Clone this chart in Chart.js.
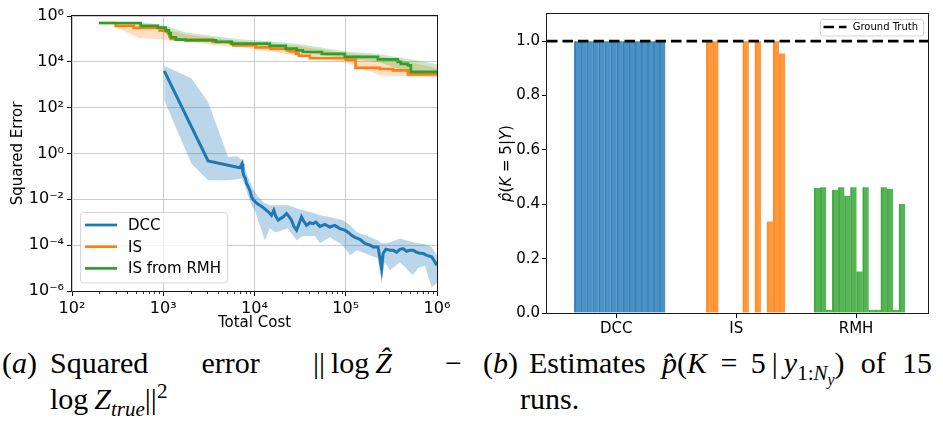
<!DOCTYPE html>
<html><head><meta charset="utf-8">
<script src="https://cdn.jsdelivr.net/npm/chart.js@4.4.0/dist/chart.umd.min.js"></script>
<style>
body{margin:0;background:#fff;width:943px;height:423px;overflow:hidden;position:relative;}
#c1{position:absolute;left:0;top:0;}
#c2{position:absolute;left:470px;top:0;}
.cap{position:absolute;font-family:"Liberation Serif";font-size:30px;line-height:30px;height:30px;color:#000;white-space:nowrap;}
.row{display:flex;justify-content:space-between;}
.cap sub,.cap sup{font-size:0.7em;line-height:0;}
.cap sub sub{font-size:0.75em;}
</style></head><body>
<canvas id="c1" width="470" height="340"></canvas>
<canvas id="c2" width="473" height="340"></canvas>

<div class="cap" style="left:2px;top:348px;">(<i>a</i>)</div>
<div class="cap row" style="left:50px;width:412px;top:348px;"><span>Squared</span><span>error</span><span>||&thinsp;log&thinsp;<i>Ẑ</i></span><span>−</span></div>
<div class="cap" style="left:50px;top:384px;">log&thinsp;<i>Z</i><sub><i>true</i></sub>||<sup>2</sup></div>

<div class="cap" style="left:483px;top:348px;">(<i>b</i>)</div>
<div class="cap row" style="left:529px;width:403px;top:348px;"><span>Estimates</span><span><i>p̂</i>(<i>K</i>&nbsp;&thinsp;=&nbsp;&thinsp;5&thinsp;|&thinsp;<i>y</i><sub>1:<i>N<sub>y</sub></i></sub>)</span><span>of</span><span>15</span></div>
<div class="cap" style="left:520px;top:384px;">runs.</div>

<script>
// ---------- Left panel data ----------
const seriesNames = ['DCC', 'IS', 'IS from RMH'];
const xTickValues = [1e2, 1e3, 1e4, 1e5, 1e6];
const xTickLabels = ['10²', '10³', '10⁴', '10⁵', '10⁶'];
const yTickValues = [1e-6, 1e-4, 1e-2, 1e0, 1e2, 1e4, 1e6];
const yTickLabels = ['10⁻⁶', '10⁻⁴', '10⁻²', '10⁰', '10²', '10⁴', '10⁶'];

const dccCost = [1025, 3100, 6900, 7310, 7480, 7640, 7930, 8170, 8510, 8880, 9330, 9820, 10590, 11430, 12330, 13540, 14360, 15350, 16280, 17130, 18160, 19420, 20590, 22440, 23780, 25450, 26980, 28900, 30600, 32750, 34700, 37200, 40400, 43900, 47000, 52000, 59000, 67000, 76000, 86100, 97700, 106700, 115800, 126000, 143000, 162000, 184000, 200000, 226000, 247000, 257000, 275000, 305000, 331000, 361000, 392000, 426000, 464000, 505000, 549000, 598000, 650000, 706000, 775000, 873000, 925000, 1000000];
const dccError = [4000, 0.47, 0.24, 0.36, 0.15, 0.11, 0.083, 0.049, 0.037, 0.025, 0.0123, 0.0091, 0.0067, 0.0055, 0.0045, 0.0033, 0.0027, 0.0020, 0.0033, 0.0018, 0.00123, 0.00148, 0.0017, 0.0024, 0.0018, 0.00123, 0.00066, 0.00045, 0.00081, 0.0017, 0.0011, 0.00074, 0.00095, 0.00087, 0.00102, 0.00066, 0.00081, 0.00062, 0.00073, 0.00053, 0.00045, 0.00036, 0.00027, 0.00022, 0.00018, 0.00012, 0.0001, 8.3e-5, 8.3e-5, 9.5e-6, 4.3e-5, 6.6e-5, 6.0e-5, 6.0e-5, 4.9e-5, 6.6e-5, 7.1e-5, 5.4e-5, 6.0e-5, 6.0e-5, 4.9e-5, 4.4e-5, 4.3e-5, 3.6e-5, 3.1e-5, 2.2e-5, 1.3e-5];

const dccBandCost = [1025, 2040, 3100, 5140, 6350, 7190, 7640, 8450, 9330, 10300, 11430, 13000, 14700, 17100, 19900, 23200, 28900, 33900, 45800, 52000, 67000, 92900, 111000, 132000, 184000, 225000, 247000, 268000, 305000, 392000, 544000, 618000, 736000, 873000, 1000000];
const dccUpper = [6700, 1860, 177, 0.71, 0.76, 0.56, 0.28, 0.10, 0.037, 0.018, 0.011, 0.0067, 0.0055, 0.0055, 0.0055, 0.0055, 0.0041, 0.0033, 0.0025, 0.0020, 0.0017, 0.00123, 0.00074, 0.00038, 0.00023, 0.00016, 0.00012, 0.00012, 0.000134, 0.000195, 0.000134, 0.00012, 0.00011, 8.3e-5, 3.6e-5];
const dccLower = [210, 0.36, 0.068, 0.068, 0.075, 0.083, 0.055, 0.015, 0.0055, 0.0027, 0.00074, 0.00016, 0.00055, 0.00036, 0.00045, 0.00055, 0.00016, 0.00025, 0.00025, 0.00012, 0.00022, 0.0001, 3.6e-5, 6.0e-5, 3.6e-5, 2.7e-5, 2.2e-6, 1.8e-5, 8e-6, 1.8e-5, 4.9e-6, 9.8e-6, 1.3e-5, 1.5e-6, 2.2e-6];

const isCost = [198, 301, 475, 916, 1091, 1164, 1208, 1405, 3490, 5500, 5860, 10300, 15100, 22600, 24400, 28400, 30600, 40400, 100300, 128000, 237000, 328000, 480000, 1000000];
const isError = [4.95e5, 3.73e5, 3.06e5, 2.31e5, 2.0e5, 1.30e5, 1.01e5, 9.3e4, 7.35e4, 6.1e4, 5.27e4, 4.3e4, 3.7e4, 3.19e4, 2.88e4, 2.29e4, 1.84e4, 1.43e4, 1.25e4, 5500, 4870, 4280, 2860, 2860];

const rmhCost = [198, 566, 871, 1064, 1148, 1208, 1371, 1765, 3770, 5640, 14700, 22000, 29100, 33900, 54700, 97800, 225000, 372000, 402000, 480000, 517000, 1000000];
const rmhError = [4.95e5, 3.73e5, 3.12e5, 2.38e5, 1.76e5, 1.18e5, 9.3e4, 8.7e4, 7.5e4, 6.25e4, 5.0e4, 3.79e4, 3.19e4, 2.69e4, 2.24e4, 1.66e4, 1.29e4, 1.0e4, 8200, 7060, 3670, 3670];

const bandCost = [301, 552, 916, 1178, 1720, 3670, 6900, 14700, 31400, 97800, 237000, 505000, 1000000];
const isUpper = [4.95e5, 4.35e5, 3.21e5, 2.38e5, 1.59e5, 1.06e5, 7.9e4, 6.4e4, 4.8e4, 2.36e4, 1.75e4, 9.5e3, 5.2e3];
const isLower = [3.21e5, 1.06e5, 9.6e4, 8.7e4, 7.9e4, 5.3e4, 4.3e4, 2.9e4, 1.75e4, 9.5e3, 2.6e3, 2.3e3, 2.1e3];
const rmhUpper = [5.3e5, 5.3e5, 4.35e5, 3.21e5, 1.95e5, 1.30e5, 9.6e4, 7.9e4, 5.8e4, 2.9e4, 2.13e4, 1.29e4, 7.8e3];
const rmhLower = [4.57e5, 3.93e5, 2.63e5, 1.30e5, 8.7e4, 7.1e4, 5.8e4, 4.3e4, 2.6e4, 1.43e4, 9.5e3, 3.2e3, 3.2e3];

// ---------- Right panel data ----------
const groupLabels = ['DCC', 'IS', 'RMH'];
const dccProb = [1, 1, 1, 1, 1, 1, 1, 1, 1, 1, 1, 1, 1, 1, 1];
const isProb = [0, 0, 1, 1, 0, 0, 0, 0, 1, 0, 1, 0, 0.337, 1, 0.955];
const rmhProb = [0.46, 0.463, 0.012, 0.453, 0.463, 0.431, 0.463, 0.153, 0.463, 0.012, 0.012, 0.463, 0.457, 0.012, 0.401];
const probTickValues = [0, 0.2, 0.4, 0.6, 0.8, 1.0];
const probTickLabels = ['0.0', '0.2', '0.4', '0.6', '0.8', '1.0'];
const groundTruth = 1.0;
const legendLabelRight = 'Ground Truth';

// ---------- helpers ----------
Chart.defaults.font.family = 'DejaVu Sans';
Chart.defaults.font.size = 15;
Chart.defaults.color = '#000';
const colors = ['#1f77b4', '#ff7f0e', '#2ca02c'];
const zip = (xs, ys) => xs.map((x, i) => ({x: x, y: ys[i]}));

function roundRectPath(ctx, x, y, w, h, r) {
  ctx.beginPath();
  ctx.moveTo(x + r, y);
  ctx.lineTo(x + w - r, y); ctx.arcTo(x + w, y, x + w, y + r, r);
  ctx.lineTo(x + w, y + h - r); ctx.arcTo(x + w, y + h, x + w - r, y + h, r);
  ctx.lineTo(x + r, y + h); ctx.arcTo(x, y + h, x, y + h - r, r);
  ctx.lineTo(x, y + r); ctx.arcTo(x, y, x + r, y, r);
  ctx.closePath();
}

const boxPlugin = {
  id: 'box',
  afterDraw(chart) {
    const a = chart.chartArea, ctx = chart.ctx;
    ctx.save();
    ctx.strokeStyle = '#1a1a1a'; ctx.lineWidth = 1;
    ctx.strokeRect(Math.round(a.left) - 0.5, Math.round(a.top) - 0.5, Math.round(a.right - a.left) + 1, Math.round(a.bottom - a.top) + 1);
    ctx.restore();
  }
};

const minorTicks = {
  id: 'minorTicks',
  afterDraw(chart) {
    const s = chart.scales.x, a = chart.chartArea, ctx = chart.ctx;
    ctx.save(); ctx.strokeStyle = '#000'; ctx.lineWidth = 0.8;
    for (let d = 0; d < xTickValues.length - 1; d++) {
      for (let k = 2; k <= 9; k++) {
        const px = Math.round(s.getPixelForValue(k * xTickValues[d])) + 0.5;
        ctx.beginPath(); ctx.moveTo(px, a.bottom); ctx.lineTo(px, a.bottom + 3); ctx.stroke();
      }
    }
    ctx.restore();
  }
};

const leftLegend = {
  id: 'leftLegend',
  afterDraw(chart) {
    const ctx = chart.ctx;
    ctx.save();
    roundRectPath(ctx, 80.5, 212.5, 147, 70.5, 3);
    ctx.fillStyle = 'rgba(255,255,255,0.8)'; ctx.fill();
    ctx.strokeStyle = '#d5d5d5'; ctx.lineWidth = 1; ctx.stroke();
    seriesNames.forEach((name, i) => {
      const yy = 225 + i * 21.7;
      ctx.strokeStyle = colors[i]; ctx.lineWidth = 2.7;
      ctx.beginPath(); ctx.moveTo(85, yy); ctx.lineTo(117, yy); ctx.stroke();
      ctx.fillStyle = '#000'; ctx.font = '15px "DejaVu Sans"'; ctx.textBaseline = 'middle';
      ctx.fillText(name, 128, yy + 1);
    });
    ctx.restore();
  }
};

// ---------- Left chart ----------
const bandStyle = (c) => ({pointRadius: 0, borderWidth: 0, borderColor: 'rgba(0,0,0,0)', backgroundColor: c});
new Chart(document.getElementById('c1'), {
  type: 'line',
  data: {
    datasets: [
      Object.assign({data: zip(dccBandCost, dccUpper), fill: false, order: 10}, bandStyle('rgba(31,119,180,0.3)')),
      Object.assign({data: zip(dccBandCost, dccLower), fill: 0, order: 10}, bandStyle('rgba(31,119,180,0.3)')),
      Object.assign({data: zip(bandCost, isUpper), fill: false, order: 9}, bandStyle('rgba(255,127,14,0.25)')),
      Object.assign({data: zip(bandCost, isLower), fill: 2, order: 9}, bandStyle('rgba(255,127,14,0.25)')),
      Object.assign({data: zip(bandCost, rmhUpper), fill: false, order: 8}, bandStyle('rgba(44,160,44,0.25)')),
      Object.assign({data: zip(bandCost, rmhLower), fill: 4, order: 8}, bandStyle('rgba(44,160,44,0.25)')),
      {label: seriesNames[1], data: zip(isCost, isError), stepped: true, borderColor: colors[1], borderWidth: 2.7, pointRadius: 0, fill: false, order: 3},
      {label: seriesNames[2], data: zip(rmhCost, rmhError), stepped: true, borderColor: colors[2], borderWidth: 2.7, pointRadius: 0, fill: false, order: 2},
      {label: seriesNames[0], data: zip(dccCost, dccError), borderColor: colors[0], borderWidth: 3, pointRadius: 0, fill: false, order: 1}
    ]
  },
  options: {
    responsive: false, animation: false,
    layout: {padding: {left: 0, right: 33, top: 16, bottom: 0}},
    plugins: {legend: {display: false}, tooltip: {enabled: false}},
    scales: {
      x: {
        type: 'logarithmic', min: 1e2, max: 1e6,
        afterBuildTicks: s => { s.ticks = xTickValues.map(v => ({value: v})); },
        afterFit: s => { s.height = 49; },
        ticks: {autoSkip: false, maxRotation: 0, padding: 3, font: {size: 16}, callback: (v, i) => xTickLabels[i]},
        grid: {color: '#cbcbcb', lineWidth: 1, tickLength: 5, tickColor: '#000'},
        border: {display: false},
        title: {display: true, text: 'Total Cost', padding: {top: 0, bottom: 8}}
      },
      y: {
        type: 'logarithmic', min: 1e-6, max: 1e6,
        afterBuildTicks: s => { s.ticks = yTickValues.map(v => ({value: v})); },
        afterFit: s => { s.width = 72; },
        ticks: {autoSkip: false, padding: 3, font: {size: 16}, callback: (v, i) => yTickLabels[i]},
        grid: {color: '#cbcbcb', lineWidth: 1, tickLength: 5, tickColor: '#000'},
        border: {display: false},
        title: {display: true, text: 'Squared Error', padding: {top: 9, bottom: 0}}
      }
    }
  },
  plugins: [boxPlugin, minorTicks, leftLegend]
});

// ---------- Right chart ----------
const xMinR = -0.578, xMaxR = 2.6;
const barStart = -0.35, barStep = 0.0506;
const barData = (vals, g) => vals.map((v, i) => ({x: g + barStart + (i + 0.5) * barStep, y: v}));
const barDs = (vals, g, fillC, edgeC) => ({
  type: 'bar', data: barData(vals, g), backgroundColor: fillC, borderColor: edgeC,
  borderWidth: {left: 1, right: 0, top: 0, bottom: 0}, borderSkipped: false,
  grouped: false, barPercentage: 1, categoryPercentage: 1, order: 2
});

const yTitlePlugin = {
  id: 'yTitle',
  afterDraw(chart) {
    const ctx = chart.ctx, a = chart.chartArea;
    const parts = [['p\u0302', 'italic'], ['(', 'normal'], ['K', 'italic'], [' = 5|', 'normal'], ['Y', 'italic'], [')', 'normal']];
    ctx.save();
    ctx.translate(36.7, (a.top + a.bottom) / 2);
    ctx.rotate(-Math.PI / 2);
    ctx.fillStyle = '#000'; ctx.textBaseline = 'middle';
    let total = 0;
    parts.forEach(p => { ctx.font = p[1] + ' 15px "DejaVu Sans"'; total += ctx.measureText(p[0]).width; });
    let x = -total / 2;
    parts.forEach(p => { ctx.font = p[1] + ' 15px "DejaVu Sans"'; ctx.fillText(p[0], x, 0); x += ctx.measureText(p[0]).width; });
    ctx.restore();
  }
};

const rightLegend = {
  id: 'rightLegend',
  afterDraw(chart) {
    const ctx = chart.ctx;
    ctx.save();
    roundRectPath(ctx, 350.5, 19.5, 103, 16.5, 2);
    ctx.fillStyle = 'rgba(255,255,255,0.8)'; ctx.fill();
    ctx.strokeStyle = '#d5d5d5'; ctx.lineWidth = 1; ctx.stroke();
    ctx.strokeStyle = '#000'; ctx.lineWidth = 2.7; ctx.setLineDash([10.5, 5]);
    ctx.beginPath(); ctx.moveTo(353.5, 27); ctx.lineTo(376.5, 27); ctx.stroke();
    ctx.setLineDash([]);
    ctx.fillStyle = '#000'; ctx.font = '10px "DejaVu Sans"'; ctx.textBaseline = 'middle';
    ctx.fillText(legendLabelRight, 382.7, 27.5);
    ctx.restore();
  }
};

new Chart(document.getElementById('c2'), {
  type: 'bar',
  data: {
    datasets: [
      {type: 'line', label: legendLabelRight, data: [{x: xMinR, y: groundTruth}, {x: xMaxR, y: groundTruth}], borderColor: '#000', borderWidth: 2.7, borderDash: [10.5, 5], pointRadius: 0, fill: false, order: 0},
      barDs(dccProb, 0, 'rgba(31,119,180,0.8)', 'rgba(31,119,180,0.85)'),
      barDs(isProb, 1, 'rgba(255,127,14,0.8)', 'rgba(255,127,14,0.85)'),
      barDs(rmhProb, 2, 'rgba(44,160,44,0.8)', 'rgba(44,160,44,0.85)')
    ]
  },
  options: {
    responsive: false, animation: false,
    layout: {padding: {left: 0, right: 15, top: 14, bottom: 0}},
    plugins: {legend: {display: false}, tooltip: {enabled: false}},
    scales: {
      x: {
        type: 'linear', min: xMinR, max: xMaxR, offset: false,
        afterBuildTicks: s => { s.ticks = groupLabels.map((l, i) => ({value: i})); },
        afterFit: s => { s.height = 27; },
        ticks: {autoSkip: false, maxRotation: 0, padding: 2, callback: (v, i) => groupLabels[i]},
        grid: {drawOnChartArea: false, offset: false, tickLength: 5, tickColor: '#000'},
        border: {display: false}
      },
      y: {
        type: 'linear', min: 0, max: 1.1,
        afterBuildTicks: s => { s.ticks = probTickValues.map(v => ({value: v})); },
        afterFit: s => { s.width = 77; },
        ticks: {autoSkip: false, padding: 2, callback: (v, i) => probTickLabels[i]},
        grid: {drawOnChartArea: false, tickLength: 5, tickColor: '#000'},
        border: {display: false}
      }
    }
  },
  plugins: [boxPlugin, yTitlePlugin, rightLegend]
});
</script>
</body></html>
